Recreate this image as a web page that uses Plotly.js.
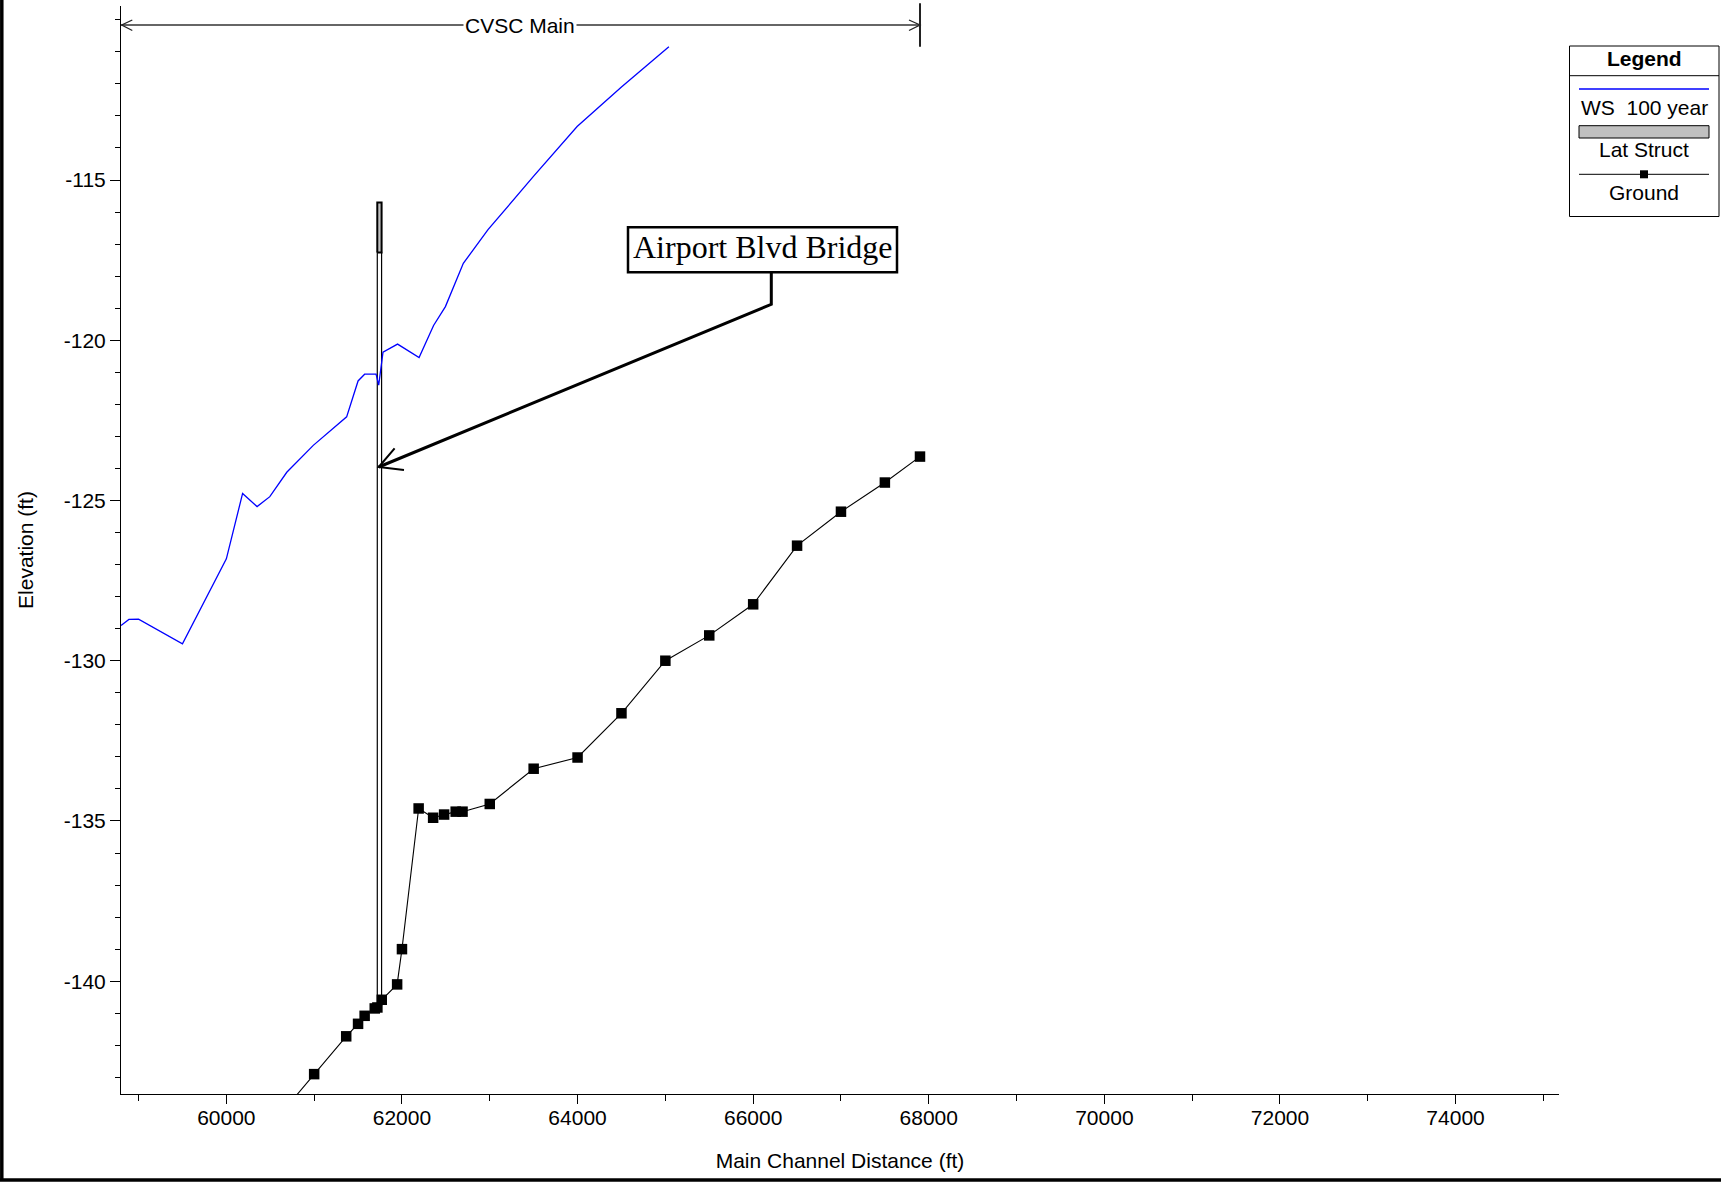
<!DOCTYPE html>
<html>
<head>
<meta charset="utf-8">
<script src="https://cdn.plot.ly/plotly-3.0.1.min.js"></script>
<style>html,body{margin:0;padding:0;background:#fff;}#chart{width:1721px;height:1185px;}</style>
</head>
<body>
<div id="chart"></div>
<script>
// ---------------- data ----------------
const wsStation = [58800, 58890, 59000, 59500, 60000, 60185, 60350, 60495, 60688, 60990, 61370, 61500, 61575, 61705, 61735, 61784, 61950, 62195, 62360, 62495, 62699, 62980, 63500, 63995, 64500, 65040];
const wsElev    = [-128.90, -128.71, -128.70, -129.47, -126.82, -124.78, -125.19, -124.88, -124.12, -123.28, -122.39, -121.27, -121.06, -121.06, -121.40, -120.37, -120.12, -120.54, -119.54, -118.95, -117.60, -116.55, -114.88, -113.33, -112.10, -110.84];

const groundStation = [60500, 61000, 61365, 61500, 61575, 61690, 61720, 61770, 61945, 62000, 62190, 62355, 62480, 62612, 62690, 63000, 63500, 64000, 64500, 65000, 65500, 66000, 66500, 67000, 67500, 67900];
const groundElev    = [-144.53, -142.90, -141.72, -141.33, -141.08, -140.85, -140.82, -140.58, -140.10, -139.00, -134.61, -134.90, -134.80, -134.71, -134.71, -134.47, -133.37, -133.02, -131.64, -130.00, -129.21, -128.24, -126.41, -125.35, -124.44, -123.63];

const latStructStation = [61719, 61768];   // faces of the lateral structure
const latStructTop  = -115.70;
const latStructWeir = -117.26;
const latStructBase = -140.75;

const xTickVals = [60000, 62000, 64000, 66000, 68000, 70000, 72000, 74000];
const xTickText = ['60000', '62000', '64000', '66000', '68000', '70000', '72000', '74000'];
const yTickVals = [-140, -135, -130, -125, -120, -115];
const yTickText = ['-140', '-135', '-130', '-125', '-120', '-115'];

const seriesNames = ['WS  100 year', 'Lat Struct', 'Ground'];
const reachName = 'CVSC Main';
const bridgeLabel = 'Airport Blvd Bridge';

// ---------------- layout geometry ----------------
const W = 1721, H = 1185;
const ML = 121, MR = 162, MT = 6, MB = 91;
const PW = W - ML - MR, PH = H - MT - MB;
const px = x => (x - ML) / PW;           // pixel -> paper
const py = y => (MT + PH - y) / PH;
const FONT = 'Liberation Sans, Arial, sans-serif';
const SERIF = 'Liberation Serif, Times New Roman, serif';

// lateral structure polygons built from its station / elevations
const rect = (x0, x1, y0, y1) => ({x: [x0, x1, x1, x0, x0], y: [y0, y0, y1, y1, y0]});
const latLow = rect(latStructStation[0], latStructStation[1], latStructBase, latStructWeir);
const latHigh = rect(latStructStation[0], latStructStation[1], latStructWeir, latStructTop);

const traces = [
  {x: latLow.x, y: latLow.y, type: 'scatter', mode: 'lines', fill: 'toself', fillcolor: '#ffffff',
   line: {color: '#000', width: 1.2}, name: seriesNames[1], showlegend: false, hoverinfo: 'skip'},
  {x: latHigh.x, y: latHigh.y, type: 'scatter', mode: 'lines', fill: 'toself', fillcolor: '#c0c0c0',
   line: {color: '#000', width: 2}, name: seriesNames[1], showlegend: false, hoverinfo: 'skip'},
  {x: wsStation, y: wsElev, type: 'scatter', mode: 'lines', name: seriesNames[0],
   line: {color: '#0000ff', width: 1.3}, showlegend: false},
  {x: groundStation, y: groundElev, type: 'scatter', mode: 'lines+markers', name: seriesNames[2],
   line: {color: '#000', width: 1.1}, marker: {symbol: 'square', size: 10.5, color: '#000'}, showlegend: false}
];

const line = (x0, y0, x1, y1, color, width) => ({type: 'line', xref: 'paper', yref: 'paper',
  x0: px(x0), y0: py(y0), x1: px(x1), y1: py(y1), line: {color: color, width: width}, layer: 'above'});
const path = (pts, color, width) => ({type: 'path', xref: 'paper', yref: 'paper',
  path: pts.map((p, i) => (i ? 'L' : 'M') + px(p[0]) + ',' + py(p[1])).join(' '),
  line: {color: color, width: width}, layer: 'above'});
const box = (x0, y0, x1, y1, fill, lw) => ({type: 'rect', xref: 'paper', yref: 'paper',
  x0: px(x0), y0: py(y0), x1: px(x1), y1: py(y1), fillcolor: fill, line: {color: '#000', width: lw}, layer: 'above'});
const text = (x, y, t, size, extra) => Object.assign({xref: 'paper', yref: 'paper', x: px(x), y: py(y),
  text: t, showarrow: false, xanchor: 'center', yanchor: 'middle', font: {family: FONT, size: size, color: '#000'}}, extra || {});

const shapes = [
  // figure frame (left and bottom)
  line(1.8, 0, 1.8, 1181, '#000', 3.5),
  line(0, 1180, W, 1180, '#000', 3.5),
  // reach bracket
  line(121, 25, 920, 25, '#333', 1.3),
  path([[132.3, 20], [121.7, 25], [132.3, 30.5]], '#222', 1.3),
  path([[909, 20], [920, 25], [909, 30.5]], '#222', 1.3),
  line(920, 3.3, 920, 46.7, '#222', 2),
  // bridge label box, leader + open arrow head
  box(628, 227.3, 897, 272.3, '#ffffff', 2.5),
  path([[771.3, 272], [771.3, 304.3], [378.7, 467]], '#000', 3),
  path([[394.6, 448.3], [378.7, 467], [404, 470]], '#000', 2),
  // custom legend
  box(1569.5, 46, 1719, 216.5, '#ffffff', 1),
  line(1569.5, 75.7, 1719, 75.7, '#000', 1),
  line(1579, 89, 1709, 89, '#0000ff', 1.3),
  box(1579, 125.7, 1709, 138, '#c0c0c0', 1),
  line(1579, 174.3, 1709, 174.3, '#000', 1),
  box(1640, 170.3, 1648, 178.3, '#000', 0)
];

const annotations = [
  text(520.3, 25.5, reachName, 21, {bgcolor: '#ffffff', borderpad: 1}),
  {xref: 'paper', yref: 'paper', x: px(762.5), y: py(247), text: bridgeLabel, showarrow: false,
   xanchor: 'center', yanchor: 'middle', font: {family: SERIF, size: 32, color: '#000'}},
  text(1644, 58, '<b>Legend</b>', 21),
  text(1644, 107.5, seriesNames[0].replace('  ', '\u00a0 '), 21),
  text(1644, 149.5, seriesNames[1], 21),
  text(1644, 192.5, seriesNames[2], 21)
];

const axisCommon = {showline: true, linecolor: '#000', linewidth: 1, ticks: 'outside', tickcolor: '#000',
  tickwidth: 1, showgrid: false, zeroline: false, tickmode: 'array',
  tickfont: {family: FONT, size: 21, color: '#000'}};

const layout = {
  width: W, height: H,
  margin: {l: ML, r: MR, t: MT, b: MB, pad: 0},
  paper_bgcolor: '#ffffff', plot_bgcolor: '#ffffff',
  showlegend: false,
  xaxis: Object.assign({}, axisCommon, {
    range: [58800, 75178], tickvals: xTickVals, ticktext: xTickText, ticklen: 9, ticklabelstandoff: -4,
    minor: {tickmode: 'linear', tick0: 0, dtick: 1000, ticks: 'outside', ticklen: 6, tickcolor: '#000', tickwidth: 1, showgrid: false},
    title: {text: 'Main Channel Distance (ft)', font: {family: FONT, size: 21, color: '#000'}, standoff: 25}
  }),
  yaxis: Object.assign({}, axisCommon, {
    range: [-143.52, -109.57], tickvals: yTickVals, ticktext: yTickText, ticklen: 10,
    minor: {tickmode: 'linear', tick0: 0, dtick: 1, ticks: 'outside', ticklen: 5, tickcolor: '#000', tickwidth: 1, showgrid: false},
    title: {text: 'Elevation (ft)', font: {family: FONT, size: 21, color: '#000'}, standoff: 24}
  }),
  shapes: shapes,
  annotations: annotations
};

Plotly.newPlot('chart', traces, layout, {displayModeBar: false, staticPlot: true});
</script>
</body>
</html>
